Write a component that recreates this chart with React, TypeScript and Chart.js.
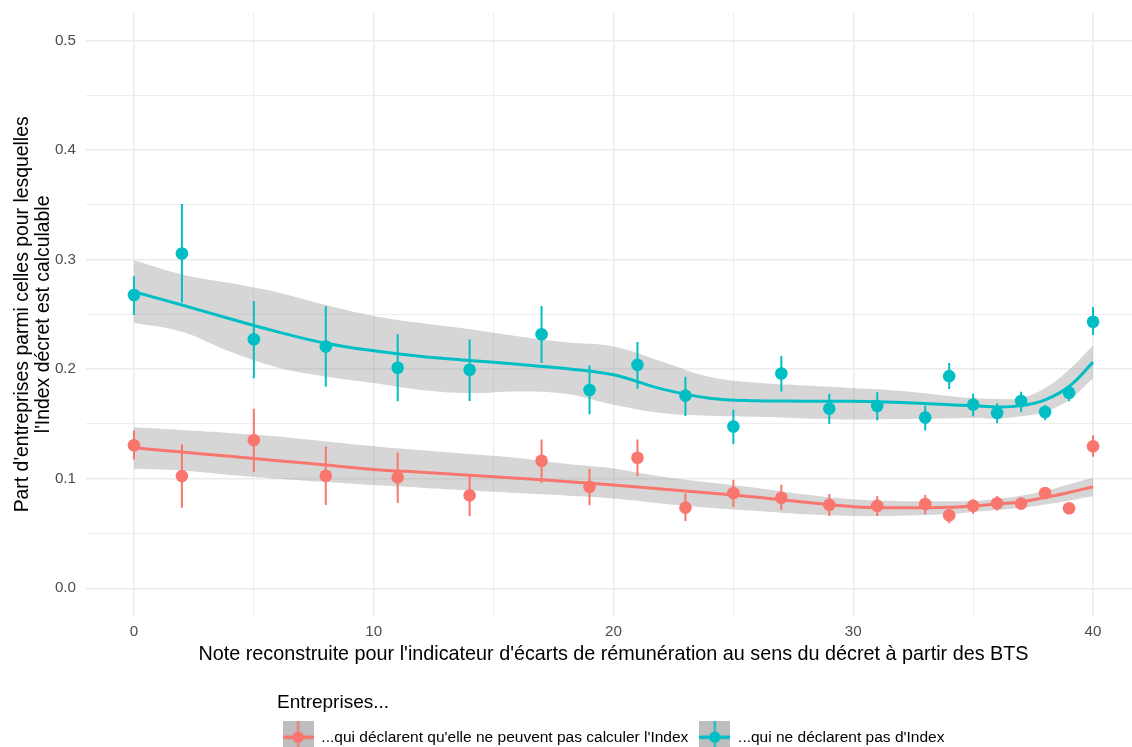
import React, { useEffect, useRef } from 'react';
import { Chart, registerables } from 'chart.js';

Chart.register(...registerables);

// ---------- data ----------
const pointX = [0, 2, 5, 8, 11, 14, 17, 19, 21, 23, 25, 27, 29, 31, 33, 34, 35, 36, 37, 38, 39, 40];

const tealValues = [0.2676, 0.3055, 0.2273, 0.2206, 0.2012, 0.1994, 0.2318, 0.181, 0.2039, 0.1758, 0.1476, 0.196, 0.164, 0.1664, 0.1558, 0.1936, 0.1676, 0.16, 0.1709, 0.1609, 0.1785, 0.2433];
const tealLow = [0.2494, 0.2609, 0.1918, 0.1839, 0.1706, 0.1709, 0.2055, 0.1588, 0.1821, 0.1573, 0.1318, 0.1797, 0.15, 0.1533, 0.144, 0.1818, 0.157, 0.1506, 0.1612, 0.1533, 0.1706, 0.2312];
const tealHigh = [0.2848, 0.3506, 0.2621, 0.2573, 0.2318, 0.227, 0.2576, 0.2033, 0.2248, 0.193, 0.163, 0.212, 0.1776, 0.179, 0.1667, 0.2055, 0.1776, 0.1688, 0.1794, 0.1673, 0.1842, 0.2568];

const redValues = [0.1306, 0.1024, 0.1352, 0.1027, 0.1012, 0.0848, 0.1164, 0.0927, 0.1191, 0.0736, 0.087, 0.0827, 0.0761, 0.0752, 0.077, 0.0667, 0.0752, 0.0776, 0.0773, 0.087, 0.073, 0.1297];
const redLow = [0.1176, 0.0736, 0.1061, 0.0761, 0.0779, 0.0658, 0.0964, 0.0758, 0.1024, 0.0615, 0.0742, 0.0715, 0.066, 0.066, 0.0676, 0.0594, 0.0679, 0.0709, 0.0721, 0.0824, 0.0712, 0.12];
const redHigh = [0.1439, 0.1312, 0.1639, 0.1294, 0.1239, 0.1036, 0.1358, 0.1091, 0.1358, 0.0867, 0.0991, 0.0945, 0.086, 0.0842, 0.0852, 0.0721, 0.0812, 0.0842, 0.0821, 0.0909, 0.0748, 0.1397];

const smoothX = [0, 2, 4, 6, 8, 10, 12, 14, 16, 18, 20, 22, 24, 26, 28, 30, 32, 34, 35, 36, 37, 38, 39, 40];
const tealFit = [0.2706, 0.2585, 0.246, 0.234, 0.2236, 0.2167, 0.2115, 0.2079, 0.2045, 0.2005, 0.1948, 0.182, 0.1735, 0.1712, 0.1708, 0.1706, 0.1695, 0.1675, 0.1667, 0.1655, 0.1667, 0.172, 0.1842, 0.2064];
const tealFitHigh = [0.2994, 0.2864, 0.2785, 0.27, 0.2585, 0.2485, 0.242, 0.2364, 0.23, 0.2245, 0.2206, 0.207, 0.193, 0.1875, 0.185, 0.1827, 0.18, 0.1755, 0.1736, 0.1727, 0.1736, 0.1827, 0.1994, 0.2215];
const tealFitLow = [0.2424, 0.2342, 0.216, 0.2015, 0.1933, 0.1873, 0.181, 0.1782, 0.1797, 0.1775, 0.1676, 0.16, 0.1575, 0.1565, 0.155, 0.154, 0.1545, 0.155, 0.1555, 0.1548, 0.157, 0.161, 0.172, 0.1918];
const redFit = [0.1282, 0.1243, 0.1204, 0.1165, 0.1125, 0.1085, 0.1058, 0.1031, 0.1005, 0.0975, 0.0942, 0.0906, 0.087, 0.083, 0.0785, 0.0745, 0.0735, 0.074, 0.0752, 0.077, 0.0788, 0.083, 0.0875, 0.0927];
const redFitHigh = [0.147, 0.1445, 0.1418, 0.1385, 0.134, 0.1297, 0.126, 0.1225, 0.119, 0.1137, 0.1094, 0.102, 0.0965, 0.0915, 0.0855, 0.0812, 0.0795, 0.0795, 0.0797, 0.0815, 0.0845, 0.089, 0.095, 0.101];
const redFitLow = [0.1091, 0.1075, 0.1035, 0.1, 0.097, 0.0942, 0.0918, 0.0893, 0.087, 0.0848, 0.082, 0.0775, 0.0735, 0.0705, 0.0675, 0.066, 0.0662, 0.0678, 0.0697, 0.0715, 0.0735, 0.0765, 0.08, 0.0842];

const xMajorTicks = [0, 10, 20, 30, 40];
const xMinorTicks = [5, 15, 25, 35];
const xTickLabels = ['0', '10', '20', '30', '40'];
const yMajorTicks = [0, 0.1, 0.2, 0.3, 0.4, 0.5];
const yMinorTicks = [0.05, 0.15, 0.25, 0.35, 0.45];
const yTickLabels = ['0.0', '0.1', '0.2', '0.3', '0.4', '0.5'];

const xTitle = "Note reconstruite pour l'indicateur d'écarts de rémunération au sens du décret à partir des BTS";
const yTitle = ["Part d'entreprises parmi celles pour lesquelles", "l'Index décret est calculable"];
const legendTitle = 'Entreprises...';
const seriesLabels = ["...qui déclarent qu'elle ne peuvent pas calculer l'Index", "...qui ne déclarent pas d'Index"];

// ---------- styles ----------
const RED = '#F8766D';
const TEAL = '#00BFC4';
const RIBBON = 'rgba(153,153,153,0.4)';
const GRID = '#EBEBEB';
const FONT = "'Liberation Sans', Arial, sans-serif";

const toXY = (xs: number[], ys: number[]) => xs.map((x, i) => ({ x, y: ys[i] }));
const errorBars = (xs: number[], lo: number[], hi: number[]) => {
  const pts: { x: number; y: number | null }[] = [];
  xs.forEach((x, i) => {
    pts.push({ x, y: lo[i] }, { x, y: hi[i] }, { x, y: null });
  });
  return pts;
};

function makeKey(color: string) {
  const c = document.createElement('canvas');
  c.width = 31;
  c.height = 33;
  const g = c.getContext('2d')!;
  g.fillStyle = '#BEBEBE';
  g.fillRect(0, 0, 31, 33);
  g.fillStyle = color;
  g.fillRect(0, 16.5 - 1.75, 31, 3.5);
  g.fillRect(15.5 - 1, 0, 2, 33);
  g.beginPath();
  g.arc(15.5, 16.5, 5.7, 0, Math.PI * 2);
  g.fill();
  return c;
}

function ticksFrom(major: number[], minor: number[]) {
  return (scale: any) => {
    scale.ticks = [...major, ...minor].sort((a, b) => a - b).map((v) => ({ value: v }));
  };
}

function noPad(s: any) {
  s.paddingTop = 0;
  s.paddingBottom = 0;
  s.paddingLeft = 0;
  s.paddingRight = 0;
}

export default function App() {
  const ref = useRef<HTMLCanvasElement>(null);

  useEffect(() => {
    if (!ref.current) return;
    const keys = [makeKey(RED), makeKey(TEAL)];

    const lineCommon = { pointRadius: 0, pointHoverRadius: 0 };

    const chart = new Chart(ref.current, {
      type: 'line',
      data: {
        datasets: [
          // ribbons
          { label: 'redHigh', data: toXY(smoothX, redFitHigh), borderWidth: 0, backgroundColor: RIBBON, fill: '+1', tension: 0.4, order: 3, ...lineCommon },
          { label: 'redLow', data: toXY(smoothX, redFitLow), borderWidth: 0, fill: false, tension: 0.4, order: 3, ...lineCommon },
          { label: 'tealHigh', data: toXY(smoothX, tealFitHigh), borderWidth: 0, backgroundColor: RIBBON, fill: '+1', tension: 0.4, order: 3, ...lineCommon },
          { label: 'tealLow', data: toXY(smoothX, tealFitLow), borderWidth: 0, fill: false, tension: 0.4, order: 3, ...lineCommon },
          // smooth fits
          { label: 'redFit', data: toXY(smoothX, redFit), borderColor: RED, borderWidth: 3, fill: false, tension: 0.4, order: 2, ...lineCommon },
          { label: 'tealFit', data: toXY(smoothX, tealFit), borderColor: TEAL, borderWidth: 3, fill: false, tension: 0.4, order: 2, ...lineCommon },
          // error bars
          { label: 'redErr', data: errorBars(pointX, redLow, redHigh), borderColor: RED, borderWidth: 2, fill: false, tension: 0, spanGaps: false, order: 1, ...lineCommon },
          { label: 'tealErr', data: errorBars(pointX, tealLow, tealHigh), borderColor: TEAL, borderWidth: 2, fill: false, tension: 0, spanGaps: false, order: 1, ...lineCommon },
          // points
          { label: seriesLabels[0], data: toXY(pointX, redValues), showLine: false, pointRadius: 6.3, pointBackgroundColor: RED, pointBorderWidth: 0, order: 0 },
          { label: seriesLabels[1], data: toXY(pointX, tealValues), showLine: false, pointRadius: 6.3, pointBackgroundColor: TEAL, pointBorderWidth: 0, order: 0 },
        ] as any,
      },
      options: {
        responsive: false,
        animation: false,
        events: [],
        layout: { padding: { left: 0, top: 13, right: 85, bottom: 0 } },
        scales: {
          x: {
            type: 'linear',
            min: -2,
            max: 42,
            afterBuildTicks: ticksFrom(xMajorTicks, xMinorTicks),
            afterFit: (s: any) => { s.height = 78; noPad(s); },
            border: { display: false },
            grid: {
              drawTicks: false,
              color: GRID,
              lineWidth: (ctx: any) => (xMajorTicks.includes(ctx.tick?.value) ? 1.5 : 0.9),
            },
            ticks: {
              autoSkip: false,
              maxRotation: 0,
              padding: 7,
              color: '#4D4D4D',
              font: { family: FONT, size: 15.2 },
              callback: (v: any) => {
                const i = xMajorTicks.indexOf(v);
                return i >= 0 ? xTickLabels[i] : '';
              },
            },
            title: {
              display: true,
              text: xTitle,
              color: '#000',
              font: { family: FONT, size: 19.8 },
              padding: { top: 0, bottom: 27.2 },
            },
          },
          y: {
            type: 'linear',
            min: -0.025,
            max: 0.525,
            afterBuildTicks: ticksFrom(yMajorTicks, yMinorTicks),
            afterFit: (s: any) => { s.width = 86; noPad(s); },
            border: { display: false },
            grid: {
              drawTicks: false,
              color: GRID,
              lineWidth: (ctx: any) => (yMajorTicks.includes(ctx.tick?.value) ? 1.5 : 0.9),
            },
            ticks: {
              autoSkip: false,
              padding: 10,
              color: '#4D4D4D',
              font: { family: FONT, size: 15.2 },
              callback: (v: any) => {
                const i = yMajorTicks.indexOf(v);
                return i >= 0 ? yTickLabels[i] : '';
              },
            },
            title: {
              display: true,
              text: yTitle,
              color: '#000',
              font: { family: FONT, size: 19.4, lineHeight: 1.07 },
              padding: { top: 12.5, bottom: 0 },
            },
          },
        },
        plugins: {
          tooltip: { enabled: false },
          legend: {
            position: 'bottom',
            fullSize: false,
            align: 'center',
            title: {
              display: true,
              text: legendTitle,
              position: 'start',
              color: '#000',
              font: { family: FONT, size: 19 },
              padding: { top: 0, bottom: 2 },
            },
            labels: {
              usePointStyle: true,
              pointStyleWidth: 31,
              padding: 11,
              color: '#000',
              font: { family: FONT, size: 15.5 },
              generateLabels: () =>
                seriesLabels.map((t, i) => ({
                  text: t,
                  pointStyle: keys[i],
                  fillStyle: 'transparent',
                  strokeStyle: 'transparent',
                  lineWidth: 0,
                  fontColor: '#000',
                  hidden: false,
                  datasetIndex: 8 + i,
                })) as any,
            },
          },
        },
      } as any,
    });
    return () => chart.destroy();
  }, []);

  return (
    <div style={{ position: 'absolute', left: 0, top: 0, width: 1132, height: 747, overflow: 'hidden', background: '#fff' }}>
      <canvas ref={ref} width={1226} height={755} style={{ display: 'block' }} />
    </div>
  );
}
